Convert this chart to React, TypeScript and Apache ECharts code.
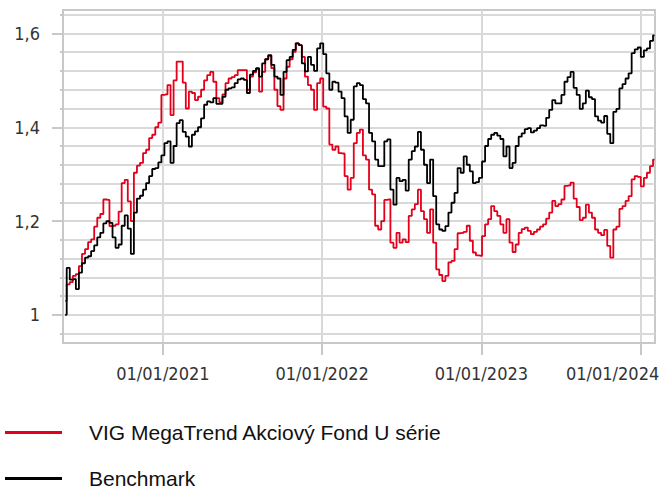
import React, { useEffect, useRef } from 'react';
import * as echarts from 'echarts';

const seriesNames = ['VIG MegaTrend Akciový Fond U série', 'Benchmark'];

// weekly observations, first one on this date
const firstDate = '2020-05-22';
const stepDays = 7;

const fund = [
  1.03, 1.065, 1.07, 1.083, 1.087, 1.104, 1.13, 1.14, 1.155, 1.161, 1.188, 1.207, 1.215, 1.246, 1.245, 1.189,
  1.19, 1.193, 1.22, 1.281, 1.288, 1.242, 1.2, 1.303, 1.318, 1.324, 1.345, 1.352, 1.377, 1.384, 1.4, 1.41,
  1.469, 1.47, 1.49, 1.426, 1.5, 1.54, 1.54, 1.495, 1.44, 1.476, 1.473, 1.458, 1.465, 1.48, 1.5, 1.511,
  1.518, 1.497, 1.462, 1.453, 1.47, 1.494, 1.504, 1.507, 1.511, 1.522, 1.522, 1.522, 1.48, 1.508, 1.517, 1.524,
  1.476, 1.518, 1.545, 1.552, 1.526, 1.48, 1.445, 1.437, 1.504, 1.529, 1.545, 1.561, 1.579, 1.575, 1.55, 1.508,
  1.49, 1.48, 1.437, 1.494, 1.504, 1.444, 1.44, 1.363, 1.352, 1.359, 1.345, 1.344, 1.296, 1.267, 1.292, 1.366,
  1.388, 1.395, 1.34, 1.331, 1.267, 1.257, 1.19, 1.182, 1.2, 1.245, 1.246, 1.154, 1.143, 1.175, 1.154, 1.161,
  1.155, 1.211, 1.225, 1.236, 1.267, 1.221, 1.204, 1.175, 1.225, 1.154, 1.097, 1.085, 1.072, 1.083, 1.112, 1.115,
  1.14, 1.174, 1.175, 1.177, 1.19, 1.158, 1.133, 1.127, 1.126, 1.168, 1.193, 1.204, 1.232, 1.221, 1.211, 1.193,
  1.175, 1.204, 1.154, 1.134, 1.15, 1.175, 1.183, 1.186, 1.179, 1.172, 1.177, 1.182, 1.188, 1.193, 1.205, 1.218,
  1.243, 1.232, 1.236, 1.246, 1.275, 1.276, 1.282, 1.248, 1.23, 1.202, 1.207, 1.235, 1.218, 1.207, 1.182, 1.175,
  1.17, 1.181, 1.147, 1.122, 1.182, 1.188, 1.226, 1.232, 1.243, 1.253, 1.289, 1.296, 1.294, 1.274, 1.292, 1.303,
  1.317, 1.331,
];

const benchmark = [
  1.0, 1.1, 1.075, 1.076, 1.055, 1.09, 1.11, 1.122, 1.125, 1.136, 1.148, 1.165, 1.175, 1.195, 1.2, 1.196,
  1.165, 1.143, 1.15, 1.19, 1.212, 1.184, 1.13, 1.218, 1.248, 1.254, 1.267, 1.281, 1.296, 1.311, 1.313, 1.325,
  1.34, 1.366, 1.37, 1.324, 1.36, 1.409, 1.415, 1.39, 1.38, 1.359, 1.384, 1.391, 1.4, 1.419, 1.448, 1.455,
  1.453, 1.462, 1.45, 1.45, 1.465, 1.48, 1.483, 1.485, 1.494, 1.502, 1.504, 1.501, 1.473, 1.512, 1.52, 1.526,
  1.508, 1.536, 1.545, 1.554, 1.533, 1.508, 1.504, 1.469, 1.518, 1.543, 1.55, 1.565, 1.579, 1.575, 1.536, 1.519,
  1.55, 1.533, 1.52, 1.568, 1.579, 1.556, 1.515, 1.48, 1.497, 1.495, 1.476, 1.462, 1.423, 1.388, 1.416, 1.487,
  1.494, 1.49, 1.46, 1.451, 1.388, 1.37, 1.331, 1.317, 1.317, 1.37, 1.374, 1.267, 1.235, 1.292, 1.285, 1.288,
  1.265, 1.331, 1.349, 1.359, 1.39, 1.352, 1.32, 1.281, 1.331, 1.253, 1.193, 1.182, 1.179, 1.189, 1.218, 1.239,
  1.26, 1.313, 1.303, 1.338, 1.32, 1.306, 1.281, 1.283, 1.292, 1.327, 1.36, 1.375, 1.384, 1.388, 1.382, 1.375,
  1.338, 1.359, 1.313, 1.324, 1.36, 1.38, 1.387, 1.396, 1.398, 1.389, 1.393, 1.398, 1.404, 1.403, 1.42, 1.437,
  1.458, 1.451, 1.451, 1.469, 1.497, 1.507, 1.518, 1.484, 1.469, 1.439, 1.451, 1.478, 1.464, 1.46, 1.423, 1.414,
  1.41, 1.424, 1.386, 1.366, 1.433, 1.439, 1.483, 1.492, 1.504, 1.515, 1.558, 1.566, 1.57, 1.55, 1.564, 1.568,
  1.584, 1.596,
];

const xRange = ['2020-05-17', '2024-02-03'];
const yearTicks = ['2021-01-01', '2022-01-01', '2023-01-01', '2024-01-01'];
const yMajorTicks = [1, 1.2, 1.4, 1.6];
const yMinorTicks = [0.96, 1, 1.04, 1.08, 1.12, 1.16, 1.2, 1.24, 1.28, 1.32, 1.36, 1.4, 1.44, 1.48, 1.52, 1.56, 1.6, 1.64];

const AXIS_GREY = '#c8c8c8';
const GRID_GREY = '#d9d9d9';
const LABEL_FONT = "'DejaVu Sans Condensed', 'DejaVu Sans', sans-serif";
const DAY = 86400000;

export default function App() {
  const ref = useRef<HTMLDivElement>(null);

  useEffect(() => {
    if (!ref.current) return;
    const chart = echarts.init(ref.current, null, { renderer: 'svg' });
    const toTs = (s: string) => Date.UTC(+s.slice(0, 4), +s.slice(5, 7) - 1, +s.slice(8, 10));
    const t0 = toTs(firstDate);
    const dateTs = fund.map((_, i) => t0 + i * stepDays * DAY);
    const yearTs = yearTicks.map(toTs);
    const lastYear = new Date(yearTs[yearTs.length - 1]).getUTCFullYear();

    const option: any = {
      animation: false,
      grid: {
        left: 63,
        right: 6,
        top: 10,
        bottom: 143,
        containLabel: false,
        outerBoundsMode: 'none',
        show: true,
        borderColor: AXIS_GREY,
        borderWidth: 2,
        backgroundColor: 'transparent',
      },
      legend: {
        orient: 'vertical',
        left: 0,
        top: 417,
        height: 120,
        icon: 'rect',
        itemWidth: 57,
        itemHeight: 3,
        itemGap: 25,
        selectedMode: false,
        data: seriesNames,
        textStyle: {
          fontFamily: "'Liberation Sans', Arial, sans-serif",
          fontSize: 21,
          color: '#111',
          lineHeight: 16,
          padding: [0, 0, 0, 22],
        },
      },
      xAxis: {
        type: 'value',
        min: toTs(xRange[0]),
        max: toTs(xRange[1]),
        axisLine: { show: true, lineStyle: { color: AXIS_GREY, width: 2 } },
        axisTick: {
          show: true,
          customValues: yearTs,
          length: 12,
          lineStyle: { color: AXIS_GREY, width: 2 },
        },
        splitLine: { show: true, lineStyle: { color: GRID_GREY, width: 2 } },
        axisLabel: {
          show: true,
          customValues: yearTs,
          margin: 21,
          color: '#333',
          fontFamily: LABEL_FONT,
          fontSize: 18,
          formatter: (v: number) => {
            const y = new Date(v).getUTCFullYear();
            const s = '01/01/' + y;
            return y === lastYear ? '{last|' + s + '}' : s;
          },
          rich: {
            last: {
              color: '#333',
              fontFamily: LABEL_FONT,
              fontSize: 18,
              padding: [0, 56, 0, 0],
            },
          },
        },
      },
      yAxis: [
        {
          type: 'value',
          min: 0.94,
          max: 1.65,
          position: 'left',
          axisLine: { show: true, lineStyle: { color: AXIS_GREY, width: 2 } },
          axisTick: {
            show: true,
            customValues: yMinorTicks,
            length: 3,
            lineStyle: { color: AXIS_GREY, width: 2 },
          },
          axisLabel: { show: false },
          splitLine: { show: true, lineStyle: { color: GRID_GREY, width: 2 } },
        },
        {
          type: 'value',
          min: 0.94,
          max: 1.65,
          position: 'left',
          offset: 0,
          axisLine: { show: false },
          axisTick: {
            show: true,
            customValues: yMajorTicks,
            length: 11,
            lineStyle: { color: AXIS_GREY, width: 2 },
          },
          axisLabel: {
            show: true,
            customValues: yMajorTicks,
            margin: 23,
            color: '#333',
            fontFamily: LABEL_FONT,
            fontSize: 18,
            formatter: (v: number) => String(v).replace('.', ','),
          },
          splitLine: { show: false },
        },
      ],
      series: [
        {
          name: seriesNames[0],
          type: 'line',
          step: 'middle',
          color: '#e2001a',
          showSymbol: false,
          lineStyle: { color: '#e2001a', width: 1.8 },
          data: dateTs.map((t, i) => [t, fund[i]]),
          z: 2,
        },
        {
          name: seriesNames[1],
          type: 'line',
          step: 'middle',
          color: '#000000',
          showSymbol: false,
          lineStyle: { color: '#000000', width: 1.8 },
          data: dateTs.map((t, i) => [t, benchmark[i]]),
          z: 3,
        },
      ],
    };

    chart.setOption(option);
    return () => chart.dispose();
  }, []);

  return (
    <div
      ref={ref}
      style={{ position: 'absolute', left: 0, top: 0, width: 661, height: 486 }}
    />
  );
}
